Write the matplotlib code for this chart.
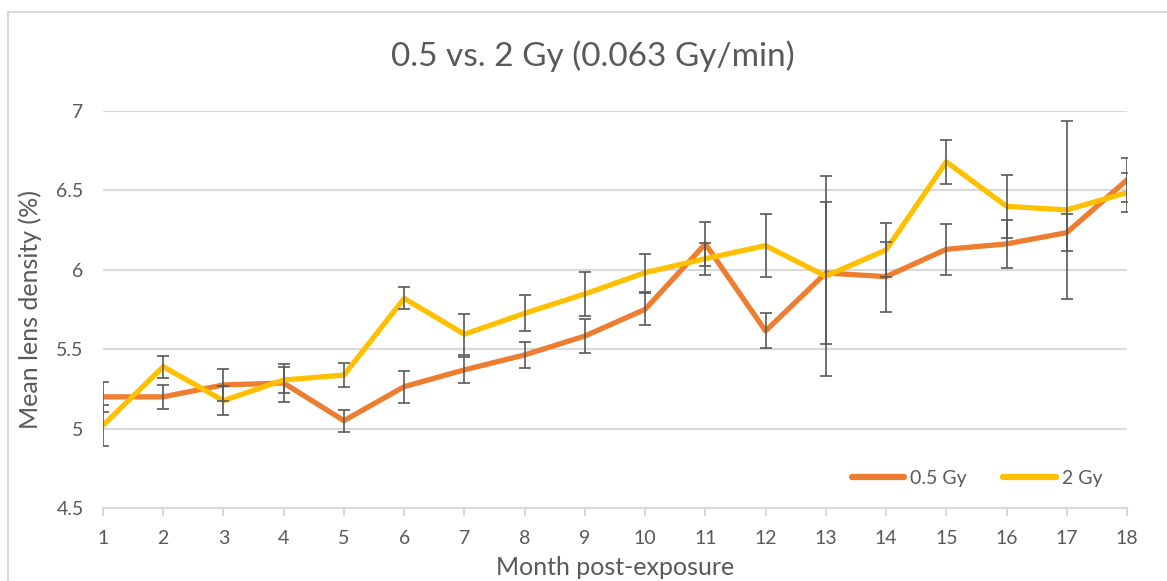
import matplotlib.pyplot as plt
from matplotlib.patches import Rectangle

months = list(range(1, 19))

dose_low = [5.20, 5.20, 5.275, 5.287, 5.05, 5.264, 5.37, 5.464, 5.583,
            5.751, 6.163, 5.615, 5.98, 5.957, 6.129, 6.163, 6.234, 6.566]
dose_low_err = [0.095, 0.075, 0.10, 0.12, 0.07, 0.10, 0.08, 0.08, 0.11,
                0.10, 0.14, 0.11, 0.45, 0.22, 0.16, 0.15, 0.115, 0.14]

dose_high = [5.02, 5.39, 5.176, 5.306, 5.337, 5.82, 5.594, 5.726, 5.848,
             5.982, 6.07, 6.152, 5.96, 6.125, 6.68, 6.40, 6.377, 6.486]
dose_high_err = [0.13, 0.07, 0.09, 0.08, 0.073, 0.07, 0.13, 0.113, 0.14,
                 0.12, 0.10, 0.20, 0.63, 0.17, 0.14, 0.20, 0.56, 0.125]

yticks = [4.5, 5, 5.5, 6, 6.5, 7]
ytick_labels = ['4.5', '5', '5.5', '6', '6.5', '7']

plt.rcParams['font.family'] = ['Lato', 'DejaVu Sans']
text_col = '#595959'
grid_col = '#d9d9d9'

fig = plt.figure(figsize=(11.67, 5.81), dpi=100)
ax = fig.add_axes([103 / 1167, 1 - 508 / 581, 1024 / 1167, 397 / 581])

# chart border (Excel style)
fig.patches.append(Rectangle((8 / 1167, -0.1), 1.2, 1.1 - 12 / 581,
                             transform=fig.transFigure, fill=False,
                             edgecolor=grid_col, linewidth=1.5))

ax.plot(months, dose_low, color='#ed7d31', lw=3.8, label='0.5 Gy',
        solid_capstyle='round', zorder=3)
ax.plot(months, dose_high, color='#ffc000', lw=3.8, label='2 Gy',
        solid_capstyle='round', zorder=4)
ax.errorbar(months, dose_low, yerr=dose_low_err, fmt='none', ecolor=text_col,
            elinewidth=1.2, capsize=4, capthick=1.2, zorder=5)
ax.errorbar(months, dose_high, yerr=dose_high_err, fmt='none', ecolor=text_col,
            elinewidth=1.2, capsize=4, capthick=1.2, zorder=5)

ax.set_xlim(1, 18)
ax.set_ylim(4.5, 7)
ax.set_xticks(months)
ax.set_yticks(yticks)
ax.set_yticklabels(ytick_labels)
ax.grid(axis='y', color=grid_col, lw=1.5)
ax.set_axisbelow(True)

for s in ['top', 'right', 'left']:
    ax.spines[s].set_visible(False)
ax.spines['bottom'].set_color(grid_col)
ax.spines['bottom'].set_linewidth(1.5)
ax.tick_params(axis='x', colors=grid_col, length=6, width=1.5, labelcolor=text_col,
               labelsize=14, pad=10)
ax.tick_params(axis='y', length=0, labelcolor=text_col, labelsize=14, pad=14)

ax.set_xlabel('Month post-exposure', fontsize=18, color=text_col, labelpad=6)
ax.set_ylabel('Mean lens density (%)', fontsize=18, color=text_col, labelpad=10)
fig.text(0.508, 1 - 56 / 581, '0.5 vs. 2 Gy (0.063 Gy/min)', ha='center', va='center',
         fontsize=24, color=text_col)

leg = ax.legend(loc='lower right', bbox_to_anchor=(0.993, 0.01), ncol=2, frameon=False,
                fontsize=14, handlelength=2.7, columnspacing=1.9, handletextpad=0.3,
                labelcolor=text_col)
for h in leg.get_lines():
    h.set_linewidth(4.5)

fig.savefig('out.png', dpi=100)
